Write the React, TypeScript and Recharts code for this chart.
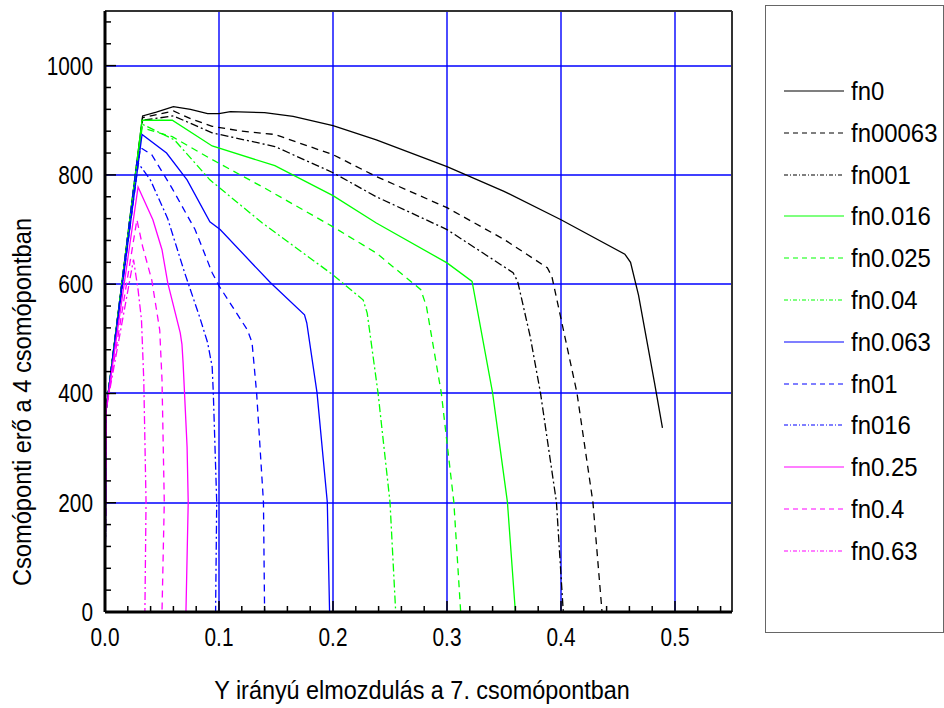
import React from 'react'
import { LineChart, Line, XAxis, YAxis, ReferenceLine } from 'recharts'

type Pt = { x: number; y: number }
const pts = (a: number[][]): Pt[] => a.map(([x, y]) => ({ x, y }))

// x = Y irányú elmozdulás, y = csomóponti erő
const fn0 = pts([[0, 0], [0.001, 370], [0.033, 908], [0.045, 915], [0.06, 925], [0.075, 920], [0.09, 912], [0.1, 912], [0.11, 916], [0.14, 914], [0.165, 907], [0.2, 890], [0.238, 864], [0.3, 815], [0.35, 770], [0.4, 718], [0.456, 655], [0.461, 640], [0.468, 580], [0.475, 500], [0.482, 420], [0.489, 337]])
const fn00063 = pts([[0, 0], [0.001, 370], [0.033, 905], [0.06, 917], [0.075, 903], [0.094, 889], [0.12, 880], [0.149, 874], [0.2, 837], [0.238, 797], [0.3, 740], [0.35, 682], [0.388, 630], [0.392, 614], [0.404, 498], [0.414, 401], [0.428, 201], [0.436, 0]])
const fn001 = pts([[0, 0], [0.001, 370], [0.033, 900], [0.06, 908], [0.094, 877], [0.149, 852], [0.2, 804], [0.238, 760], [0.3, 700], [0.358, 621], [0.362, 605], [0.373, 504], [0.382, 401], [0.396, 201], [0.402, 0]])
const fn0016 = pts([[0, 0], [0.001, 370], [0.0325, 900], [0.059, 900], [0.094, 853], [0.149, 817], [0.2, 762], [0.238, 712], [0.3, 639], [0.322, 605], [0.34, 401], [0.353, 201], [0.36, 0]])
const fn0025 = pts([[0, 0], [0.001, 370], [0.0325, 886], [0.059, 870], [0.094, 828], [0.14, 776], [0.2, 705], [0.238, 657], [0.277, 590], [0.282, 559], [0.295, 401], [0.306, 201], [0.312, 0]])
const fn004 = pts([[0, 0], [0.001, 370], [0.0325, 893], [0.061, 864], [0.092, 791], [0.138, 712], [0.2, 617], [0.2265, 571], [0.23, 547], [0.2395, 401], [0.25, 201], [0.255, 0]])
const fn0063 = pts([[0, 0], [0.001, 370], [0.0325, 874], [0.054, 840], [0.072, 791], [0.092, 714], [0.101, 700], [0.145, 603], [0.175, 544], [0.177, 529], [0.186, 401], [0.195, 201], [0.197, 0]])
const fn01 = pts([[0, 0], [0.001, 370], [0.031, 850], [0.041, 837], [0.059, 775], [0.079, 700], [0.094, 621], [0.1, 597], [0.125, 516], [0.129, 493], [0.133, 401], [0.139, 201], [0.14, 0]])
const fn016 = pts([[0, 0], [0.001, 370], [0.028, 825], [0.04, 790], [0.055, 720], [0.07, 620], [0.083, 540], [0.09, 493], [0.094, 449], [0.095, 401], [0.098, 201], [0.097, 0]])
const fn025 = pts([[0, 0], [0.001, 370], [0.029, 778], [0.042, 718], [0.05, 663], [0.055, 603], [0.066, 511], [0.0675, 490], [0.0685, 456], [0.072, 302], [0.073, 201], [0.071, 0]])
const fn04 = pts([[0, 0], [0.001, 370], [0.028, 718], [0.033, 669], [0.041, 608], [0.048, 516], [0.05, 425], [0.052, 201], [0.05, 0]])
const fn063 = pts([[0, 0], [0.001, 370], [0.025, 645], [0.029, 590], [0.032, 535], [0.034, 425], [0.036, 201], [0.035, 0]])

const X_TICKS = [0, 0.02, 0.04, 0.06, 0.08, 0.1, 0.12, 0.14, 0.16, 0.18, 0.2, 0.22, 0.24, 0.26, 0.28, 0.3, 0.32, 0.34, 0.36, 0.38, 0.4, 0.42, 0.44, 0.46, 0.48, 0.5, 0.52, 0.54]
const Y_TICKS = [0, 40, 80, 120, 160, 200, 240, 280, 320, 360, 400, 440, 480, 520, 560, 600, 640, 680, 720, 760, 800, 840, 880, 920, 960, 1000, 1040, 1080]
const X_GRID = [0.1, 0.2, 0.3, 0.4, 0.5]
const Y_GRID = [200, 400, 600, 800, 1000]

const SOLID = ''
const DASH = '7 5'
const DASHDOT = '8 3 2 3'

const SERIES = [
  { name: 'fn0', data: fn0, color: '#000000', dash: SOLID },
  { name: 'fn00063', data: fn00063, color: '#000000', dash: DASH },
  { name: 'fn001', data: fn001, color: '#000000', dash: DASHDOT },
  { name: 'fn0.016', data: fn0016, color: '#00ff00', dash: SOLID },
  { name: 'fn0.025', data: fn0025, color: '#00ff00', dash: DASH },
  { name: 'fn0.04', data: fn004, color: '#00ff00', dash: DASHDOT },
  { name: 'fn0.063', data: fn0063, color: '#0000ff', dash: SOLID },
  { name: 'fn01', data: fn01, color: '#0000ff', dash: DASH },
  { name: 'fn016', data: fn016, color: '#0000ff', dash: DASHDOT },
  { name: 'fn0.25', data: fn025, color: '#ff00ff', dash: SOLID },
  { name: 'fn0.4', data: fn04, color: '#ff00ff', dash: DASH },
  { name: 'fn0.63', data: fn063, color: '#ff00ff', dash: DASHDOT },
]

const FONT = '"Liberation Sans", Arial, sans-serif'
const GRID_BLUE = '#0000ff'

// condensed text, like the original export
function CText({ x, y, size, sx, anchor, rotate, children }: any) {
  const t = `translate(${x},${y})${rotate ? ` rotate(${rotate})` : ''} scale(${sx},1)`
  return (
    <text transform={t} x={0} y={0} textAnchor={anchor} fontFamily={FONT} fontSize={size} fill="#000">
      {children}
    </text>
  )
}

// grid line centred on a pixel boundary so every line renders the same shade of blue
function GridLine(p: any) {
  const horiz = Math.abs(p.y1 - p.y2) < 0.01
  const sy = Math.round(p.y1)
  const sx = Math.round(p.x1)
  return (
    <line
      x1={horiz ? p.x1 : sx}
      x2={horiz ? p.x2 : sx}
      y1={horiz ? sy : p.y1}
      y2={horiz ? sy : p.y2}
      stroke={p.stroke}
      strokeWidth={p.strokeWidth}
    />
  )
}

function XTick({ x, y, payload }: any) {
  const v = payload.value as number
  const major = Math.abs(v * 10 - Math.round(v * 10)) < 1e-9
  return (
    <g>
      <line x1={x} x2={x} y1={y} y2={y - (major ? 11 : 6)} stroke="#000" strokeWidth={1.5} />
      {major && <CText x={x} y={y + 34} size={26} sx={0.8} anchor="middle">{v.toFixed(1)}</CText>}
    </g>
  )
}

function YTick({ x, y, payload }: any) {
  const v = payload.value as number
  const major = v % 200 === 0
  return (
    <g>
      <line x1={x} x2={x + (major ? 11 : 6)} y1={y} y2={y} stroke="#000" strokeWidth={1.5} />
      {major && <CText x={x - 12} y={y + 9} size={26} sx={0.8} anchor="end">{v}</CText>}
    </g>
  )
}

function XTitle() {
  return <CText x={422} y={699} size={26} sx={0.9} anchor="middle">Y irányú elmozdulás a 7. csomópontban</CText>
}

function YTitle() {
  return <CText x={31} y={402} size={26} sx={0.91} anchor="middle" rotate={-90}>Csomóponti erő a 4 csomópontban</CText>
}

function LegendBox() {
  return (
    <div style={{ position: 'absolute', left: 765, top: 5, width: 177, height: 626, border: '1px solid #666', background: '#fff', fontFamily: FONT }}>
      {SERIES.map((s, i) => (
        <div key={s.name} style={{ position: 'absolute', left: 18, top: 72 + i * 41.8, height: 26, display: 'flex', alignItems: 'center' }}>
          <svg width={60} height={4} style={{ display: 'block' }}>
            <line x1={0} x2={60} y1={2} y2={2} stroke={s.color} strokeWidth={1.2} strokeDasharray={s.dash === DASHDOT ? '4 2 1 2' : s.dash === DASH ? '5 4' : undefined} />
          </svg>
          <span style={{ marginLeft: 7, fontSize: 26, color: '#000', lineHeight: '26px', display: 'inline-block', transform: 'scaleX(0.92)', transformOrigin: 'left center', whiteSpace: 'nowrap' }}>{s.name}</span>
        </div>
      ))}
    </div>
  )
}

export default function App() {
  return (
    <div style={{ position: 'relative', width: 944, height: 708, background: '#fff' }}>
      <style>{'body{margin:0}'}</style>
      <LineChart width={944} height={708} margin={{ top: 11, right: 212, bottom: 36, left: 45 }}>
        <XAxis
          type="number"
          dataKey="x"
          domain={[0, 0.55]}
          allowDataOverflow
          ticks={X_TICKS}
          interval={0}
          tickSize={0}
          tickMargin={0}
          tick={<XTick />}
          tickLine={false}
          axisLine={{ stroke: '#000', strokeWidth: 3 }}
          height={60}
          label={<XTitle />}
        />
        <YAxis
          type="number"
          dataKey="y"
          domain={[0, 1100]}
          allowDataOverflow
          ticks={Y_TICKS}
          interval={0}
          tickSize={0}
          tickMargin={0}
          tick={<YTick />}
          tickLine={false}
          axisLine={{ stroke: '#000', strokeWidth: 3 }}
          width={60}
          label={<YTitle />}
        />
        {Y_GRID.map(v => (
          <ReferenceLine key={'h' + v} y={v} stroke={GRID_BLUE} strokeWidth={1.4} shape={GridLine} />
        ))}
        {X_GRID.map(v => (
          <ReferenceLine key={'v' + v} x={v} stroke={GRID_BLUE} strokeWidth={1.4} shape={GridLine} />
        ))}
        <ReferenceLine y={1100} stroke="#333" strokeWidth={2} />
        <ReferenceLine x={0.55} stroke="#333" strokeWidth={2} />
        {SERIES.map(s => (
          <Line
            key={s.name}
            data={s.data}
            dataKey="y"
            name={s.name}
            type="linear"
            stroke={s.color}
            strokeWidth={1.3}
            strokeDasharray={s.dash || undefined}
            dot={false}
            activeDot={false}
            isAnimationActive={false}
          />
        ))}
      </LineChart>
      <LegendBox />
    </div>
  )
}
